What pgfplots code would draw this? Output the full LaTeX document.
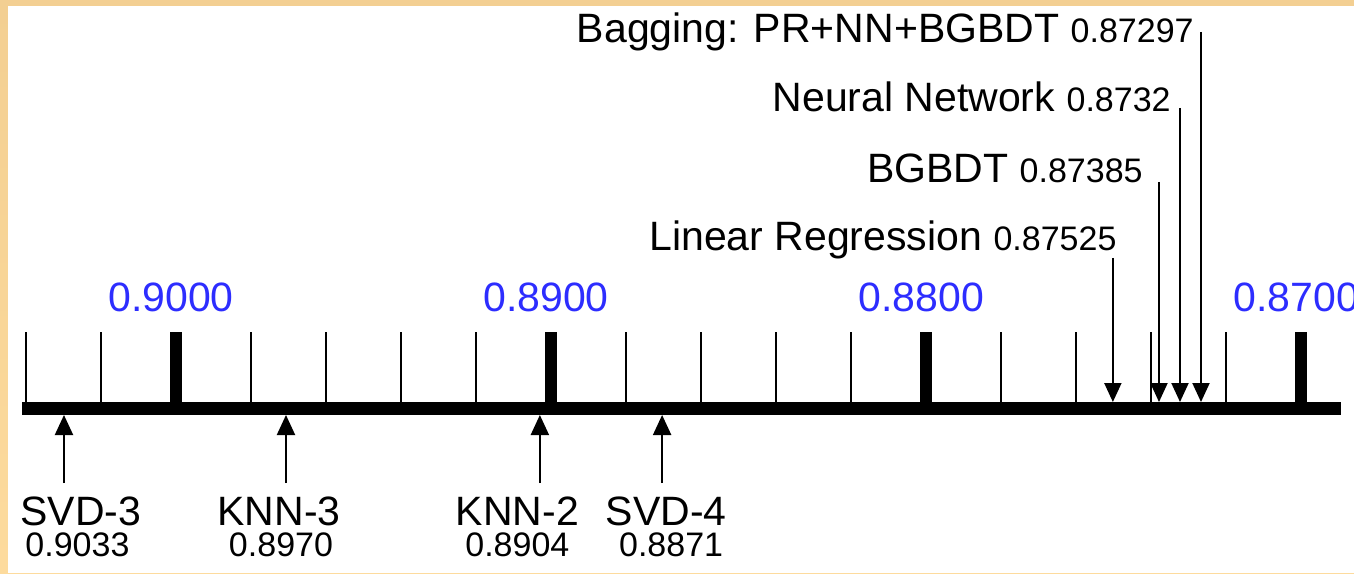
\documentclass[border=0pt]{standalone}
\usepackage{pgfplots}
\pgfplotsset{compat=1.18}
\usepackage{fontspec}
\setmainfont{Liberation Sans}
\usetikzlibrary{arrows.meta}
\definecolor{tickblue}{RGB}{45,45,255}
\definecolor{beigeA}{RGB}{243,207,146}
\definecolor{beigeB}{RGB}{253,219,157}
\newcommand{\lblfont}{\fontsize{20.5}{24}\selectfont}
\newcommand{\valfont}{\fontsize{17}{20}\selectfont}
\begin{document}
\begin{tikzpicture}
\shade[top color=beigeA,bottom color=beigeB] (-11pt,-82.5pt) rectangle (666pt,204pt);
\fill[white] (-7pt,-82.5pt) rectangle (666pt,201pt);
\begin{axis}[
  at={(0pt,0pt)}, anchor=south west,
  scale only axis, width=659.5pt, height=200pt,
  xmin=0.868937, xmax=0.90411, ymin=0, ymax=400,
  x dir=reverse,
  hide y axis,
  axis x line*=bottom,
  x axis line style={-, line width=6.5pt, line cap=butt},
  tick align=inside,
  xtick={0.87,0.88,0.89,0.90},
  xticklabels={0.8700,0.8800,0.8900,0.9000},
  minor xtick={0.872,0.874,0.876,0.878,0.882,0.884,0.886,0.888,0.892,0.894,0.896,0.898,0.902,0.904},
  major tick length=38pt, minor tick length=38pt,
  major tick style={line width=6pt, black},
  minor tick style={line width=1.1pt, black},
  xticklabel style={font=\lblfont, text=tickblue, anchor=base, yshift=48pt, xshift=-2.5pt, inner sep=0pt},
  clip=false,
]
% arrows from above
\addplot[black, line width=1pt, -{Triangle[width=8.5pt,length=9.5pt]}] coordinates {(0.87502,150) (0.87502,6)};
\addplot[black, line width=1pt, -{Triangle[width=8.5pt,length=9.5pt]}] coordinates {(0.87379,226) (0.87379,6)};
\addplot[black, line width=1pt, -{Triangle[width=8.5pt,length=9.5pt]}] coordinates {(0.87323,300) (0.87323,6)};
\addplot[black, line width=1pt, -{Triangle[width=8.5pt,length=9.5pt]}] coordinates {(0.87267,376) (0.87267,6)};
% arrows from below
\addplot[black, line width=1pt, -{Triangle[width=9pt,length=10pt]}] coordinates {(0.90299,-75) (0.90299,-7)};
\addplot[black, line width=1pt, -{Triangle[width=9pt,length=10pt]}] coordinates {(0.89707,-75) (0.89707,-7)};
\addplot[black, line width=1pt, -{Triangle[width=9pt,length=10pt]}] coordinates {(0.89030,-75) (0.89030,-7)};
\addplot[black, line width=1pt, -{Triangle[width=9pt,length=10pt]}] coordinates {(0.88704,-75) (0.88704,-7)};
% top labels
\node[anchor=base east, inner sep=0pt, xshift=-3.5pt] at (axis cs:0.87267,365) {\lblfont Bagging: PR+NN+BGBDT \valfont 0.87297};
\node[anchor=base east, inner sep=0pt, xshift=-4.5pt] at (axis cs:0.87323,296) {\lblfont Neural Network \valfont 0.8732};
\node[anchor=base east, inner sep=0pt, xshift=-8pt] at (axis cs:0.87379,225) {\lblfont BGBDT \valfont 0.87385};
\node[anchor=base east, inner sep=0pt, xshift=2pt] at (axis cs:0.87502,158) {\lblfont Linear Regression \valfont 0.87525};
% bottom labels
\node[anchor=base, inner sep=0pt, xshift=8.5pt] at (axis cs:0.90299,-117) {\lblfont SVD-3};
\node[anchor=base, inner sep=0pt, xshift=6.75pt] at (axis cs:0.90299,-148.5) {\valfont 0.9033};
\node[anchor=base, inner sep=0pt, xshift=-3.5pt] at (axis cs:0.89707,-117) {\lblfont KNN-3};
\node[anchor=base, inner sep=0pt, xshift=-2.5pt] at (axis cs:0.89707,-148.5) {\valfont 0.8970};
\node[anchor=base, inner sep=0pt, xshift=-11.25pt] at (axis cs:0.89030,-117) {\lblfont KNN-2};
\node[anchor=base, inner sep=0pt, xshift=-11.25pt] at (axis cs:0.89030,-148.5) {\valfont 0.8904};
\node[anchor=base, inner sep=0pt, xshift=2pt] at (axis cs:0.88704,-117) {\lblfont SVD-4};
\node[anchor=base, inner sep=0pt, xshift=4.5pt] at (axis cs:0.88704,-148.5) {\valfont 0.8871};
\end{axis}
\pgfresetboundingbox
\path[use as bounding box] (-11pt,-82.5pt) rectangle (666pt,204pt);
\end{tikzpicture}
\end{document}
